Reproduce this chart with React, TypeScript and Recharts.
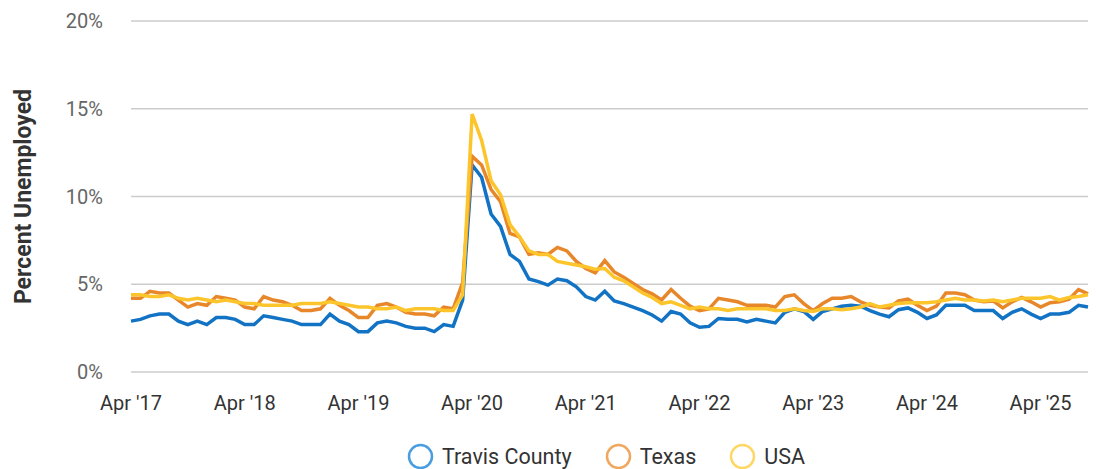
import { LineChart, Line, XAxis, YAxis, CartesianGrid, Legend } from "recharts";

// monthly, Apr 2017 .. Sep 2025
const months: string[] = [];
for (let i = 0; i < 102; i++) {
  const m = (3 + i) % 12;
  const y = 2017 + Math.floor((3 + i) / 12);
  months.push(`${y}-${String(m + 1).padStart(2, "0")}`);
}

const tickLabels = ["Apr '17", "Apr '18", "Apr '19", "Apr '20", "Apr '21", "Apr '22", "Apr '23", "Apr '24", "Apr '25"];

const travis = [
  2.9, 3.0, 3.2, 3.3, 3.3, 2.9, 2.7, 2.9, 2.7, 3.1, 3.1, 3.0,
  2.7, 2.7, 3.2, 3.1, 3.0, 2.9, 2.7, 2.7, 2.7, 3.3, 2.9, 2.7,
  2.3, 2.3, 2.8, 2.9, 2.8, 2.6, 2.5, 2.5, 2.3, 2.7, 2.6, 4.1,
  11.8, 11.1, 9.0, 8.3, 6.7, 6.3, 5.3, 5.15, 4.95, 5.3, 5.2, 4.85,
  4.3, 4.1, 4.6, 4.05, 3.9, 3.7, 3.5, 3.25, 2.9, 3.45, 3.3, 2.8,
  2.55, 2.6, 3.05, 3.0, 3.0, 2.85, 3.0, 2.9, 2.8, 3.4, 3.6, 3.45,
  3.0, 3.45, 3.6, 3.75, 3.8, 3.75, 3.5, 3.3, 3.15, 3.55, 3.65, 3.4,
  3.05, 3.25, 3.8, 3.8, 3.8, 3.5, 3.5, 3.5, 3.05, 3.4, 3.6, 3.3,
  3.05, 3.3, 3.3, 3.4, 3.8, 3.7,
];

const texas = [
  4.2, 4.2, 4.6, 4.5, 4.5, 4.1, 3.7, 3.9, 3.8, 4.3, 4.2, 4.1,
  3.7, 3.6, 4.3, 4.1, 4.0, 3.8, 3.5, 3.5, 3.6, 4.2, 3.8, 3.5,
  3.1, 3.1, 3.8, 3.9, 3.7, 3.4, 3.3, 3.3, 3.2, 3.7, 3.6, 5.1,
  12.3, 11.8, 10.4, 9.7, 7.9, 7.7, 6.7, 6.8, 6.7, 7.1, 6.9, 6.3,
  5.9, 5.65, 6.35, 5.7, 5.4, 5.05, 4.7, 4.45, 4.1, 4.7, 4.2, 3.75,
  3.5, 3.6, 4.2, 4.1, 4.0, 3.8, 3.8, 3.8, 3.7, 4.3, 4.4, 3.9,
  3.5, 3.9, 4.2, 4.2, 4.3, 4.0, 3.8, 3.7, 3.65, 4.05, 4.15, 3.8,
  3.5, 3.75, 4.5, 4.5, 4.4, 4.1, 4.0, 4.05, 3.65, 4.0, 4.25, 4.0,
  3.7, 3.95, 4.0, 4.15, 4.7, 4.45,
];

const usa = [
  4.4, 4.4, 4.3, 4.3, 4.4, 4.2, 4.1, 4.2, 4.1, 4.0, 4.1, 4.0,
  3.9, 3.9, 3.8, 3.8, 3.8, 3.8, 3.9, 3.9, 3.9, 4.0, 3.9, 3.8,
  3.7, 3.7, 3.6, 3.6, 3.7, 3.5, 3.6, 3.6, 3.6, 3.5, 3.5, 4.4,
  14.7, 13.2, 10.9, 10.1, 8.4, 7.7, 6.9, 6.7, 6.7, 6.3, 6.2, 6.1,
  6.0, 5.85, 5.9, 5.4, 5.2, 4.85, 4.5, 4.25, 3.9, 4.0, 3.8, 3.6,
  3.7, 3.6, 3.6, 3.5, 3.6, 3.6, 3.6, 3.6, 3.5, 3.5, 3.6, 3.5,
  3.45, 3.6, 3.6, 3.55, 3.6, 3.7, 3.9, 3.7, 3.8, 3.9, 3.95, 3.95,
  3.95, 4.0, 4.1, 4.2, 4.1, 4.1, 4.05, 4.1, 4.0, 4.1, 4.2, 4.2,
  4.2, 4.3, 4.1, 4.25, 4.3, 4.4,
];

const yTicks = [0, 5, 10, 15, 20];

const series = [
  { key: "travis", name: "Travis County", color: "#1273c5", legend: "#4a9ee0" },
  { key: "texas", name: "Texas", color: "#e8872a", legend: "#f0a860" },
  { key: "usa", name: "USA", color: "#fdc52c", legend: "#fdd867" },
];

const data = months.map((month, i) => ({ month, travis: travis[i], texas: texas[i], usa: usa[i] }));

const FONT = "Roboto, sans-serif";

function tickFor(month: string) {
  const idx = months.indexOf(month);
  return tickLabels[idx / 12] ?? "";
}

function LegendRow() {
  return (
    <div
      style={{
        display: "flex",
        justifyContent: "center",
        alignItems: "center",
        gap: 33,
        height: 52,
        boxSizing: "border-box",
        paddingTop: 26,
        paddingLeft: 124,
        fontFamily: FONT,
      }}
    >
      {series.map((s) => (
        <div key={s.key} style={{ display: "flex", alignItems: "center" }}>
          <svg width={27} height={27} style={{ marginRight: 8 }}>
            <circle cx={13.5} cy={13.5} r={11.5} fill="#fff" stroke={s.legend} strokeWidth={2.5} />
          </svg>
          <span style={{ fontSize: 21.5, color: "#333" }}>{s.name}</span>
        </div>
      ))}
    </div>
  );
}

export default function App() {
  return (
    <div style={{ position: "absolute", left: 0, top: 0, background: "#fff" }}>
      <LineChart width={1097} height={469} data={data} margin={{ top: 21, right: 9, bottom: 0, left: 0 }}>
        <CartesianGrid vertical={false} stroke="#cccccc" strokeWidth={1.5} />
        <XAxis
          dataKey="month"
          interval={11}
          tickFormatter={tickFor}
          axisLine={false}
          tickLine={false}
          tickSize={0}
          tickMargin={24}
          height={45}
          tick={{ fontSize: 20, fill: "#333", fontFamily: FONT }}
        />
        <YAxis
          domain={[0, 20]}
          ticks={yTicks}
          tickFormatter={(v) => `${v}%`}
          axisLine={false}
          tickLine={false}
          tickSize={0}
          tickMargin={28}
          width={131}
          tick={{ fontSize: 20, fill: "#666", fontFamily: FONT }}
          label={{
            value: "Percent Unemployed",
            angle: -90,
            position: "center",
            dx: -43,
            style: { fontSize: 23, fontWeight: 700, fill: "#333", fontFamily: FONT, textAnchor: "middle" },
          }}
        />
        <Legend verticalAlign="bottom" content={() => <LegendRow />} wrapperStyle={{ height: 52 }} />
        {series.map((s) => (
          <Line
            key={s.key}
            type="linear"
            dataKey={s.key}
            name={s.name}
            stroke={s.color}
            strokeWidth={3.5}
            dot={false}
            isAnimationActive={false}
          />
        ))}
      </LineChart>
    </div>
  );
}
